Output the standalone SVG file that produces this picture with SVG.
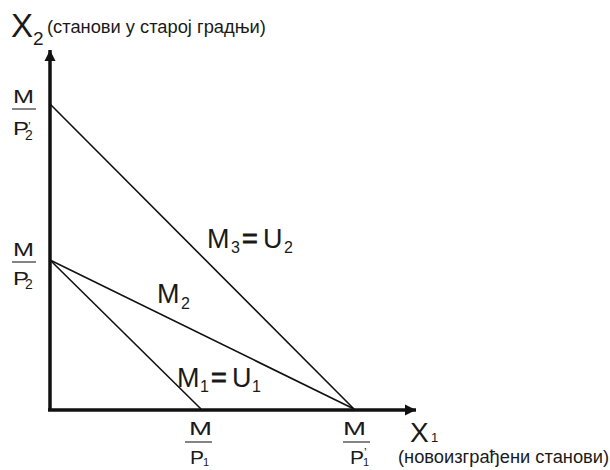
<svg xmlns="http://www.w3.org/2000/svg" width="610" height="470" viewBox="0 0 610 470">
<style>
text{font-family:"Liberation Sans",Arial,sans-serif;fill:#1a1a1a}
.big{font-size:33px}
.bigx{font-size:28px}
.lab{font-size:27px}
.eq{font-size:27px;stroke:#1a1a1a;stroke-width:0.8}
.sub{font-size:16px}
.frac{font-size:19px}
.fsub{font-size:14px}
.fsub1{font-size:11px}
.prime{font-size:12px}
.paren{font-size:18.3px}
.ax{stroke:#111;stroke-width:3.5;fill:none}
.ln{stroke:#111;stroke-width:1.6;fill:none}
.bar{stroke:#333;stroke-width:1.2}
</style>
<defs>
<marker id="arr" viewBox="0 0 10 10" refX="10" refY="5" markerWidth="3.2" markerHeight="3.2" orient="auto" markerUnits="strokeWidth">
<path d="M0,0 L10,5 L0,10 Z" fill="#111"/>
</marker>
</defs>
<rect width="610" height="470" fill="#fff"/>
<g id="connectors">
<line class="ax" x1="50" y1="410" x2="50" y2="50" marker-end="url(#arr)"/>
<line class="ax" x1="48" y1="410" x2="416" y2="410" marker-end="url(#arr)"/>
<line class="ln" x1="50" y1="104" x2="354" y2="409"/>
<line class="ln" x1="50" y1="260" x2="354" y2="409"/>
<line class="ln" x1="50" y1="260" x2="201" y2="409"/>
</g>
<g id="axis-y-label">
<text class="big" x="11" y="37">X</text>
<text x="33" y="45" style="font-size:19px">2</text>
<text class="paren" x="47" y="33">(станови у старој градњи)</text>
</g>
<g id="axis-x-label">
<text class="bigx" x="410" y="442">X</text>
<text x="431" y="442" style="font-size:13px">1</text>
<text class="paren" x="398" y="463">(новоизграђени станови)</text>
</g>
<g id="frac-y-top">
<text class="frac" x="13" y="103" textLength="21" lengthAdjust="spacingAndGlyphs">M</text>
<line class="bar" x1="12" y1="109" x2="36" y2="109"/>
<text class="frac" x="13" y="135" textLength="16" lengthAdjust="spacingAndGlyphs">P</text>
<text class="fsub" x="25" y="140">2</text>
<text class="prime" x="28" y="131">’</text>
</g>
<g id="frac-y-mid">
<text class="frac" x="13" y="256" textLength="21" lengthAdjust="spacingAndGlyphs">M</text>
<line class="bar" x1="12" y1="262" x2="36" y2="262"/>
<text class="frac" x="13" y="285" textLength="16" lengthAdjust="spacingAndGlyphs">P</text>
<text class="fsub" x="25" y="289">2</text>
</g>
<g id="frac-x-1">
<text class="frac" x="189" y="435" textLength="23" lengthAdjust="spacingAndGlyphs">M</text>
<line class="bar" x1="185" y1="442" x2="212" y2="442"/>
<text class="frac" x="190" y="464" textLength="14" lengthAdjust="spacingAndGlyphs">P</text>
<text class="fsub1" x="203" y="466">1</text>
</g>
<g id="frac-x-2">
<text class="frac" x="343" y="435" textLength="23" lengthAdjust="spacingAndGlyphs">M</text>
<line class="bar" x1="343" y1="442" x2="370" y2="442"/>
<text class="frac" x="350" y="464" textLength="14" lengthAdjust="spacingAndGlyphs">P</text>
<text class="fsub1" x="363" y="466">1</text>
<text class="prime" x="364" y="457">’</text>
</g>
<g id="label-m3">
<text class="lab" x="207" y="248">M</text>
<text class="sub" x="231" y="253">3</text>
<text class="eq" x="242" y="248">=</text>
<text class="lab" x="263" y="248">U</text>
<text class="sub" x="284" y="253">2</text>
</g>
<g id="label-m2">
<text class="lab" x="157" y="303">M</text>
<text class="sub" x="181" y="309">2</text>
</g>
<g id="label-m1">
<text class="lab" x="177" y="387">M</text>
<text class="sub" x="200" y="392">1</text>
<text class="eq" x="211" y="387">=</text>
<text class="lab" x="232" y="387">U</text>
<text class="sub" x="252" y="392">1</text>
</g>
</svg>
